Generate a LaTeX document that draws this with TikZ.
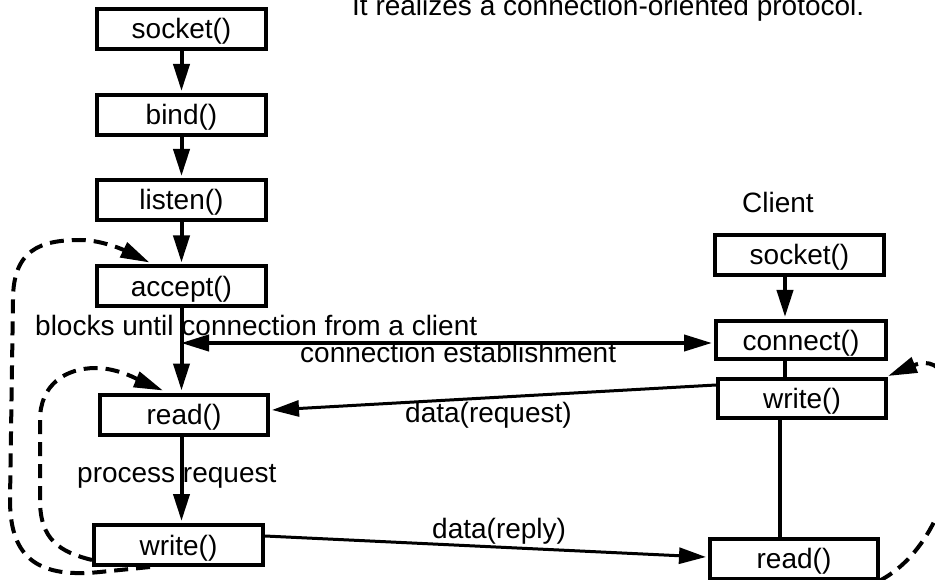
\documentclass[tikz,border=0pt]{standalone}
\usepackage{fontspec}
\setmainfont{Liberation Sans}
\usetikzlibrary{arrows.meta,calc}
\begin{document}
\begin{tikzpicture}[x=1pt,y=-1pt,
  font=\fontsize{28}{32}\selectfont,
  box/.style={draw,line width=4pt,minimum width=169pt,minimum height=40pt,inner sep=0pt,text height=24pt,text depth=4pt},
  arr/.style={line width=4pt,-{Triangle[length=27pt,width=16pt]}},
  plainline/.style={line width=4pt},
  dbl/.style={line width=4pt,{Triangle[length=28pt,width=16pt]}-{Triangle[length=28pt,width=16pt]}},
  dataarr/.style={line width=3pt,-{Triangle[length=27pt,width=16pt]}},
  dsh/.style={line width=4pt,dash pattern=on 14pt off 8pt,-{Triangle[length=29pt,width=16pt]}},
  lbl/.style={inner sep=0pt,anchor=base west}
]
\fill[white] (0,0) rectangle (935,580);
\useasboundingbox (0,0) rectangle (935,580);

% title
\node[lbl] (title) at (352,16) {It realizes a connection-oriented protocol.};

% server boxes
\node[box] (ssocket) at (181.5,29) {socket()};
\node[box] (sbind) at (181.5,115) {bind()};
\node[box] (slisten) at (181.5,200) {listen()};
\node[box] (saccept) at (181.5,286.5) {accept()};
\node[box,minimum width=168pt] (sread) at (184,414.5) {read()};
\node[box] (swrite) at (178.5,545) {write()};

% client
\node[lbl] (clientlbl) at (742,213) {Client};
\node[box] (csocket) at (799.5,255) {socket()};
\node[box,minimum width=170pt,minimum height=38pt] (cconnect) at (801,340) {connect()};
\node[box,minimum width=168pt,minimum height=39pt] (cwrite) at (802,398.5) {write()};
\node[box,minimum width=168pt] (cread) at (794,558.5) {read()};

% labels
\node[lbl] (blocks) at (35,335) {blocks until connection from a client};
\node[lbl] (estab) at (300,362) {connection establishment};
\node[lbl] (dreq) at (405,422) {data(request)};
\node[lbl] (proc) at (77,482) {process request};
\node[lbl] (drep) at (432,538) {data(reply)};

% server flow
\draw[arr] (ssocket.south) -- ([yshift=2pt]sbind.north);
\draw[arr] (sbind.south) -- ([yshift=2pt]slisten.north);
\draw[arr] (slisten.south) -- ([yshift=2pt]saccept.north);
\draw[arr] (saccept.south) -- ([yshift=2pt]saccept.south |- sread.north);
\draw[arr] (sread.south -| saccept.south) -- ([yshift=2pt]saccept.south |- swrite.north);

% client flow
\draw[arr] ([xshift=-14.5pt]csocket.south) -- ([xshift=-14.5pt,yshift=2pt]csocket.south |- cconnect.north);
\draw[plainline] ([xshift=-16pt]cconnect.south) -- ([xshift=-16pt]cconnect.south |- cwrite.north);
\draw[plainline] ([xshift=-22pt]cwrite.south) -- ([xshift=-22pt]cwrite.south |- cread.north);

% connection establishment
\coordinate (cx) at (181,343);
\draw[dbl] (cx) -- ([xshift=-2pt]cx -| cconnect.west);

% data
\draw[dataarr] ([yshift=13.5pt]cwrite.west) -- ([yshift=4.5pt,xshift=2pt]sread.east);
\draw[dataarr] ([yshift=9pt]swrite.east) -- ([yshift=1.5pt,xshift=-2pt]cread.west);

% dashed loops
\draw[dsh] ([xshift=58pt]swrite.south west) -- (100,572)
  .. controls (40,578) and (10,560) .. (10,500) -- (13,300)
  .. controls (13,250) and (40,240) .. (80,240)
  .. controls (105,240) and (130,253) .. ([xshift=-32pt,yshift=2pt]saccept.north);
\draw[dsh] ([yshift=-15pt]swrite.west)
  .. controls (60,552) and (40,540) .. (40,500) -- (40,420)
  .. controls (40,385) and (65,368) .. (96,368)
  .. controls (120,368) and (145,383) .. ([xshift=-21pt,yshift=2pt]sread.north);
\draw[dsh] (cread.south east) .. controls (975,530) and (975,340) .. ([yshift=1pt]cwrite.north east);
\end{tikzpicture}
\end{document}
